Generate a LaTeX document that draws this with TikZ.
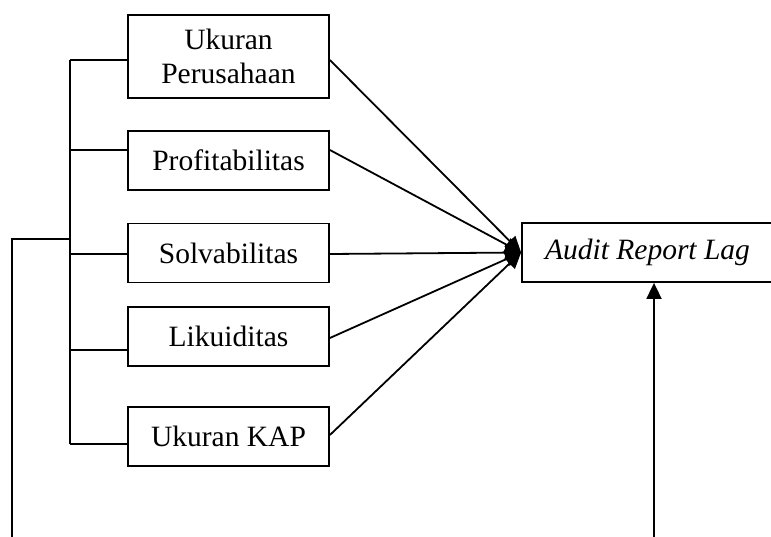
\documentclass[tikz,border=0pt]{standalone}
\usepackage{fontspec}
\setmainfont{Liberation Serif}
\usetikzlibrary{arrows.meta}

\begin{document}
\begin{tikzpicture}[x=1pt, y=-1pt, line width=1.8pt, box/.style = {shape=rectangle, draw, align=center, fill=white, minimum width=201pt, minimum height=59pt, inner sep=0pt, font=\fontsize{29.5}{34}\selectfont}, tip/.style = {-{Triangle[length=16pt,width=15pt]}}]
	\useasboundingbox (0,0) rectangle (771,537);
	% variables
	\node[box, minimum height=83pt] (b1) at (228.5,56.5) {Ukuran\\Perusahaan};
	\node[box] (b2) at (228.5,160.5) {Profitabilitas};
	\node[box] (b3) at (228.5,253) {Solvabilitas};
	\node[box] (b4) at (228.5,336.5) {Likuiditas};
	\node[box] (b5) at (228.5,436.5) {Ukuran KAP};
	\node[box, minimum width=251pt] (arl) at (647.5,252.5) {\itshape Audit Report Lag};
	% bracket on the left
	\coordinate (spine) at (70,0);
	\coordinate (jn) at (70,239);
	\coordinate (lft) at (12,537);
	\coordinate (src) at (654,537);
	\draw ([yshift=-3.5pt]b1.west -| spine) -- ([yshift=-7.5pt]b5.west -| spine);
	\foreach \n/\l in {b1/-3.5, b2/10.5, b3/-1, b4/-13.5, b5/-7.5}
		\draw ([yshift=\l pt]\n.west) -- ([yshift=\l pt]\n.west -| spine);
	\draw (jn) -- (jn -| lft) -- (lft);
	% arrows to audit report lag
	\foreach \n/\r in {b1/-3.5, b2/10.5, b3/-1, b4/-1.5, b5/1.5}
		\draw[tip] ([yshift=\r pt]\n.east) -- (arl.west);
	\draw[tip] (src) -- (src |- arl.south);
\end{tikzpicture}
\end{document}
